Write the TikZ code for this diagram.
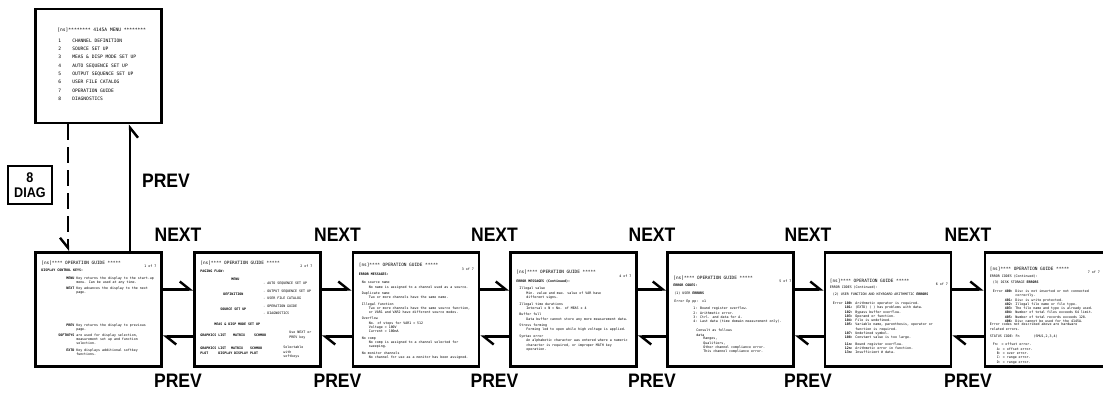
\documentclass[tikz,border=0pt]{standalone}
\usepackage{fontspec}
\newfontfamily\lbl[FakeStretch=0.9]{Liberation Sans}
\newfontfamily\scr{DejaVu Sans Mono}
\usetikzlibrary{arrows.meta}

\tikzset{
  screen/.style={draw, line width=2.6pt, minimum width=126pt, minimum height=114pt, inner sep=0pt},
  scrhead/.style={anchor=north west, inner sep=0pt, font=\scr\fontsize{4.4}{5}\selectfont},
  scrtext/.style={anchor=north west, inner sep=0pt, align=left, font=\scr\fontsize{3.3}{4.3}\selectfont},
  menutext/.style={anchor=north west, inner sep=0pt, align=left, font=\scr\fontsize{4.6}{8.3}\selectfont},
  pagelabel/.style={font=\lbl\bfseries\fontsize{19.5}{20}\selectfont},
  flow/.style={line width=2.4pt, -{Straight Barb[harpoon, length=10pt, width=16pt]}},
  flowswap/.style={line width=2.4pt, -{Straight Barb[harpoon, swap, length=10pt, width=16pt]}},
}

\begin{document}
\begin{tikzpicture}[x=1pt, y=-1pt]
\useasboundingbox (0,0) rectangle (1103,392);

% menu screen
\node[screen] (menu) at (98.5,66) {};
\node[menutext] (menuh) at ([shift={(23,20)}]menu.north west) {[ns]******** 4145A MENU ********};
\node[menutext] (menui) at ([shift={(24,31)}]menu.north west) {%
\makebox[14pt][l]{1}CHANNEL DEFINITION\\
\makebox[14pt][l]{2}SOURCE SET UP\\
\makebox[14pt][l]{3}MEAS \& DISP MODE SET UP\\
\makebox[14pt][l]{4}AUTO SEQUENCE SET UP\\
\makebox[14pt][l]{5}OUTPUT SEQUENCE SET UP\\
\makebox[14pt][l]{6}USER FILE CATALOG\\
\makebox[14pt][l]{7}OPERATION GUIDE\\
\makebox[14pt][l]{8}DIAGNOSTICS};

% diag key
\node[draw, line width=1.8pt, minimum width=44pt, minimum height=38pt, inner sep=0pt, align=center,
  font=\lbl\bfseries\fontsize{14}{15}\selectfont] (diag) at (30,185) {8\\DIAG};

% guide screens
\node[screen] (g1) at (98.5,309.5) {};
\node[screen] (g2) at (257.5,309.5) {};
\node[screen] (g3) at (416,309.5) {};
\node[screen] (g4) at (573.5,309.5) {};
\node[screen] (g5) at (730.5,309.5) {};
\node[screen] (g6) at (888,309.5) {};
\node[screen] (g7) at (1048,309.5) {};

% page 1
\node[scrhead] (g1h) at ([shift={(7,10)}]g1.north west) {[ns]**** OPERATION GUIDE *****};
\node[scrtext] (g1p) at ([shift={(110,14)}]g1.north west) {1 of 7};
\node[scrtext] (g1a) at ([shift={(7,18)}]g1.north west) {\bfseries DISPLAY CONTROL KEYS:};
\node[scrtext] (g1b) at ([shift={(24,25)}]g1.north west) {%
\begin{tabular}{@{}r@{ }l@{}}
\bfseries MENU & Key returns the display to the start-up\\
 & menu. Can be used at any time.\\[1.5pt]
\bfseries NEXT & Key advances the display to the next\\
 & page.\\[28pt]
\bfseries PREV & Key returns the display to previous\\
 & page.\\[1.5pt]
\bfseries SOFTKEYS & are used for display selection,\\
 & measurement set up and function\\
 & selection.\\[2pt]
\bfseries EXTD & Key displays additional softkey\\
 & functions.
\end{tabular}};

% page 2
\node[scrhead] (g2h) at ([shift={(7,10)}]g2.north west) {[ns]**** OPERATION GUIDE *****};
\node[scrtext] (g2p) at ([shift={(107,14)}]g2.north west) {2 of 7};
\node[scrtext] (g2a) at ([shift={(7,19)}]g2.north west) {\bfseries PAGING FLOW:};
\node[scrtext] (g2b) at ([shift={(38,27)}]g2.north west) {\bfseries MENU};
\node[scrtext] (g2c) at ([shift={(30,42)}]g2.north west) {\bfseries DEFINITION};
\node[scrtext] (g2d) at ([shift={(27,57)}]g2.north west) {\bfseries SOURCE SET UP};
\node[scrtext] (g2e) at ([shift={(70,31)}]g2.north west) {%
- AUTO SEQUENCE SET UP\\[3.2pt]
- OUTPUT SEQUENCE SET UP\\[3.2pt]
- USER FILE CATALOG\\[3.2pt]
- OPERATION GUIDE\\[3.2pt]
- DIAGNOSTICS};
\node[scrtext] (g2f) at ([shift={(21,72)}]g2.north west) {\bfseries MEAS \& DISP MODE SET UP};
\node[scrtext] (g2g) at ([shift={(7,83)}]g2.north west) {\bfseries GRAPHICS~LIST\hspace*{7pt}MATRIX\hspace*{9pt}SCHMOO};
\node[scrtext] (g2i) at ([shift={(7,96)}]g2.north west) {\bfseries GRAPHICS~LIST\hspace*{5pt}MATRIX\hspace*{7pt}SCHMOO\\
\bfseries PLOT\hspace*{10pt}DISPLAY DISPLAY~PLOT};
\node[scrtext] (g2j) at ([shift={(96,80)}]g2.north west) {Use NEXT or\\PREV key};
\node[scrtext] (g2k) at ([shift={(90,95)}]g2.north west) {Selectable\\with\\softkeys};

% page 3
\node[scrhead] (g3h) at ([shift={(7,12)}]g3.north west) {[ns]**** OPERATION GUIDE *****};
\node[scrtext] (g3p) at ([shift={(110,17)}]g3.north west) {3 of 7};
\node[scrtext] (g3a) at ([shift={(7,22)}]g3.north west) {\bfseries ERROR MESSAGES:};
\node[scrtext] (g3b) at ([shift={(10,30)}]g3.north west) {%
No source name\\
\hspace*{7pt}No name is assigned to a channel used as a source.\\[2pt]
Duplicate name\\
\hspace*{7pt}Two or more channels have the same name.\\[2pt]
Illegal function\\
\hspace*{7pt}Two or more channels have the same source function,\\
\hspace*{7pt}or VAR1 and VAR2 have different source modes.\\[2pt]
Overflow\\
\hspace*{7pt}No. of steps for VAR1 > 512\\
\hspace*{7pt}Voltage > 100V\\
\hspace*{7pt}Current > 100mA\\[2pt]
No comp\\
\hspace*{7pt}No comp is assigned to a channel selected for\\
\hspace*{7pt}sweeping.\\[2pt]
No monitor channels\\
\hspace*{7pt}No channel for use as a monitor has been assigned.};

% page 4
\node[scrhead] (g4h) at ([shift={(7,19)}]g4.north west) {[ns]**** OPERATION GUIDE *****};
\node[scrtext] (g4p) at ([shift={(110,24)}]g4.north west) {4 of 7};
\node[scrtext] (g4a) at ([shift={(7,28)}]g4.north west) {\bfseries ERROR MESSAGES (Continued):};
\node[scrtext] (g4b) at ([shift={(10,36)}]g4.north west) {%
Illegal value\\
\hspace*{7pt}Min. value and max. value of VAR have\\
\hspace*{7pt}different signs.\\[2.2pt]
Illegal time durations\\
\hspace*{7pt}Interval x N < No. of MEAS x 4\\[2.2pt]
Buffer full\\
\hspace*{7pt}Data buffer cannot store any more measurement data.\\[2.2pt]
Stress forming\\
\hspace*{7pt}Forming led to open while high voltage is applied.\\[2.2pt]
Syntax error\\
\hspace*{7pt}An alphabetic character was entered where a numeric\\
\hspace*{7pt}character is required, or improper MATH key\\
\hspace*{7pt}operation.};

% page 5
\node[scrhead] (g5h) at ([shift={(7,25)}]g5.north west) {[ns]**** OPERATION GUIDE *****};
\node[scrtext] (g5p) at ([shift={(113,29)}]g5.north west) {5 of 7};
\node[scrtext] (g5a) at ([shift={(7,33)}]g5.north west) {\bfseries ERROR CODES:};
\node[scrtext] (g5b) at ([shift={(8,41)}]g5.north west) {(1) USER \bfseries ERRORS};
\node[scrtext] (g5c) at ([shift={(8,49)}]g5.north west) {Error Ep pp:\ \ x1};
\node[scrtext] (g5d) at ([shift={(27,56)}]g5.north west) {%
1: Bound register overflow.\\
2: Arithmetic error.\\
3: Ctrl. and data for A.\\
4: Last data (time domain measurement only).};
\node[scrtext] (g5e) at ([shift={(30,78)}]g5.north west) {Consult as follows\\data};
\node[scrtext] (g5f) at ([shift={(37,86)}]g5.north west) {%
Ranges,\\
Qualifiers,\\
Other channel compliance error.\\
This channel compliance error.};

% page 6
\node[scrhead] (g6h) at ([shift={(6,28)}]g6.north west) {[ns]**** OPERATION GUIDE *****};
\node[scrtext] (g6p) at ([shift={(112,32)}]g6.north west) {6 of 7};
\node[scrtext] (g6a) at ([shift={(6,35)}]g6.north west) {ERROR CODES (Continued):};
\node[scrtext] (g6b) at ([shift={(9,42)}]g6.north west) {(2) USER FUNCTION AND KEYBOARD ARITHMETIC \bfseries ERRORS};
\node[scrtext] (g6c) at ([shift={(9,50)}]g6.north west) {%
\begin{tabular}{@{}r@{ }l@{}}
Error \bfseries 100: & Arithmetic operator is required.\\
\bfseries 101: & (EXTD) ( ) has problems with data.\\
\bfseries 102: & Bypass buffer overflow.\\
\bfseries 103: & Operand or function.\\
\bfseries 104: & File is undefined.\\
\bfseries 105: & Variable name, parenthesis, operator or\\
 & function is required.\\
\bfseries 107: & Undefined symbol.\\
\bfseries 108: & Constant value is too large.\\[2pt]
\bfseries 11n: & Bound register overflow.\\
\bfseries 12n: & Arithmetic error in function.\\
\bfseries 13n: & Insufficient \# data.
\end{tabular}};

% page 7
\node[scrhead] (g7h) at ([shift={(6,16)}]g7.north west) {[ns]**** OPERATION GUIDE *****};
\node[scrtext] (g7p) at ([shift={(104,20)}]g7.north west) {7 of 7};
\node[scrtext] (g7a) at ([shift={(6,24)}]g7.north west) {ERROR CODES (Continued):};
\node[scrtext] (g7b) at ([shift={(9,30)}]g7.north west) {(3) DISK STORAGE \bfseries ERRORS};
\node[scrtext] (g7c) at ([shift={(9,38)}]g7.north west) {%
\begin{tabular}{@{}r@{ }l@{}}
Error \bfseries 400: & Disc is not inserted or not connected\\
 & correctly.\\
\bfseries 401: & Disc is write protected.\\
\bfseries 402: & Illegal file name or file type.\\
\bfseries 403: & The file name and type is already used.\\
\bfseries 404: & Number of total files exceeds 64 limit.\\
\bfseries 405: & Number of total records exceeds 128.\\
\bfseries 406: & Disc cannot be used for the 4145A.
\end{tabular}};
\node[scrtext] (g7d) at ([shift={(6,72)}]g7.north west) {Error codes not described above are hardware\\related errors.};
\node[scrtext] (g7e) at ([shift={(6,84)}]g7.north west) {STATUS CODE: Fn\hspace*{14pt}(SMU1,2,3,4)};
\node[scrtext] (g7f) at ([shift={(9,92)}]g7.north west) {%
Fn: = offset error.\\
\ \ A: = offset error.\\
\ \ B: = over error.\\
\ \ C: = range error.\\
\ \ D: = range error.};

% menu links
\draw[flowswap, dash pattern=on 16pt off 7pt] ([xshift=-30.5pt]menu.south) -- ([xshift=-30.5pt]g1.north);
\draw[flowswap] ([xshift=31.5pt]g1.north) -- ([xshift=31.5pt]menu.south);
\node[pagelabel] (prevup) at (166,181) {PREV};

% next / prev links
\draw[flow] ([yshift=20pt]g1.east) -- ([yshift=20pt]g2.west);
\draw[flow] ([yshift=20pt]g2.east) -- ([yshift=20pt]g3.west);
\draw[flow] ([yshift=20pt]g3.east) -- ([yshift=20pt]g4.west);
\draw[flow] ([yshift=20pt]g4.east) -- ([yshift=20pt]g5.west);
\draw[flow] ([yshift=20pt]g5.east) -- ([yshift=20pt]g6.west);
\draw[flow] ([yshift=20pt]g6.east) -- ([yshift=20pt]g7.west);
\draw[flow] ([yshift=-27pt]g2.west) -- ([yshift=-27pt]g1.east);
\draw[flow] ([yshift=-27pt]g3.west) -- ([yshift=-27pt]g2.east);
\draw[flow] ([yshift=-27pt]g4.west) -- ([yshift=-27pt]g3.east);
\draw[flow] ([yshift=-27pt]g5.west) -- ([yshift=-27pt]g4.east);
\draw[flow] ([yshift=-27pt]g6.west) -- ([yshift=-27pt]g5.east);
\draw[flow] ([yshift=-27pt]g7.west) -- ([yshift=-27pt]g6.east);

\node[pagelabel] (n1) at (178,235) {NEXT};
\node[pagelabel] (n2) at (337.5,235) {NEXT};
\node[pagelabel] (n3) at (494.5,235) {NEXT};
\node[pagelabel] (n4) at (652,235) {NEXT};
\node[pagelabel] (n5) at (808,235) {NEXT};
\node[pagelabel] (n6) at (968,235) {NEXT};
\node[pagelabel] (p1) at (178,381) {PREV};
\node[pagelabel] (p2) at (337.5,381) {PREV};
\node[pagelabel] (p3) at (494.5,381) {PREV};
\node[pagelabel] (p4) at (652,381) {PREV};
\node[pagelabel] (p5) at (808,381) {PREV};
\node[pagelabel] (p6) at (968,381) {PREV};
\end{tikzpicture}
\end{document}
